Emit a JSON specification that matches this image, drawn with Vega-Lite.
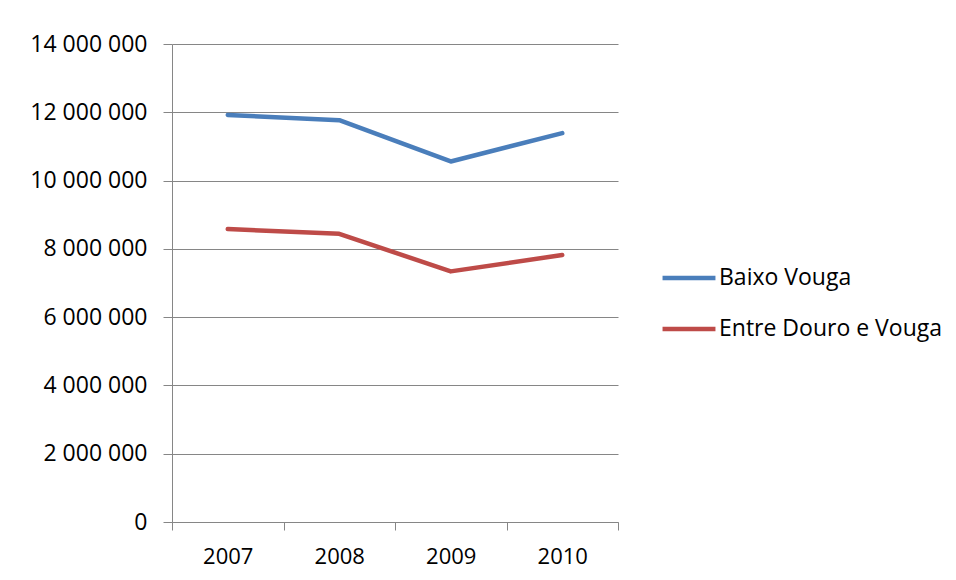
{
  "$schema": "https://vega.github.io/schema/vega-lite/v6.json",
  "width": 446,
  "height": 478,
  "autosize": "none",
  "padding": {"left": 172, "top": 44, "right": 338, "bottom": 58},
  "background": "white",
  "config": {
    "view": {"stroke": null},
    "font": "Open Sans",
    "locale": {"number": {"decimal": ",", "thousands": " ", "grouping": [3], "currency": ["", " €"]}}
  },
  "data": {
    "values": [
      {"ano": "2007", "regiao": "Baixo Vouga", "valor": 11920000},
      {"ano": "2008", "regiao": "Baixo Vouga", "valor": 11770000},
      {"ano": "2009", "regiao": "Baixo Vouga", "valor": 10560000},
      {"ano": "2010", "regiao": "Baixo Vouga", "valor": 11390000},
      {"ano": "2007", "regiao": "Entre Douro e Vouga", "valor": 8580000},
      {"ano": "2008", "regiao": "Entre Douro e Vouga", "valor": 8440000},
      {"ano": "2009", "regiao": "Entre Douro e Vouga", "valor": 7340000},
      {"ano": "2010", "regiao": "Entre Douro e Vouga", "valor": 7820000}
    ]
  },
  "mark": {"type": "line", "strokeWidth": 4.5, "strokeCap": "round", "strokeJoin": "round"},
  "encoding": {
    "x": {
      "field": "ano",
      "type": "ordinal",
      "bandPosition": 0.5,
      "scale": {"type": "band", "paddingInner": 0, "paddingOuter": 0},
      "axis": {
        "title": null,
        "labelAngle": 0,
        "tickBand": "extent",
        "grid": false,
        "domainColor": "#868686",
        "tickColor": "#868686",
        "tickSize": 8,
        "labelPadding": 16,
        "labelFontSize": 22,
        "labelColor": "black",
        "labelFont": "Open Sans"
      }
    },
    "y": {
      "field": "valor",
      "type": "quantitative",
      "scale": {"domain": [0, 14000000], "nice": false},
      "axis": {
        "title": null,
        "values": [0, 2000000, 4000000, 6000000, 8000000, 10000000, 12000000, 14000000],
        "format": ",d",
        "grid": true,
        "gridColor": "#868686",
        "domainColor": "#868686",
        "tickColor": "#868686",
        "tickSize": 9,
        "labelPadding": 16,
        "labelFontSize": 23,
        "labelColor": "black",
        "labelFont": "Open Sans"
      }
    },
    "color": {
      "field": "regiao",
      "type": "nominal",
      "scale": {"domain": ["Baixo Vouga", "Entre Douro e Vouga"], "range": ["#4A7EBB", "#BE4B48"]},
      "legend": {
        "title": null,
        "orient": "none",
        "legendX": 488,
        "legendY": 205,
        "symbolType": "stroke",
        "symbolSize": 2800,
        "symbolStrokeWidth": 4.5,
        "labelFontSize": 23,
        "labelLimit": 400,
        "labelColor": "black",
        "labelFont": "Open Sans",
        "labelOffset": 1,
        "rowPadding": 10
      }
    }
  }
}
